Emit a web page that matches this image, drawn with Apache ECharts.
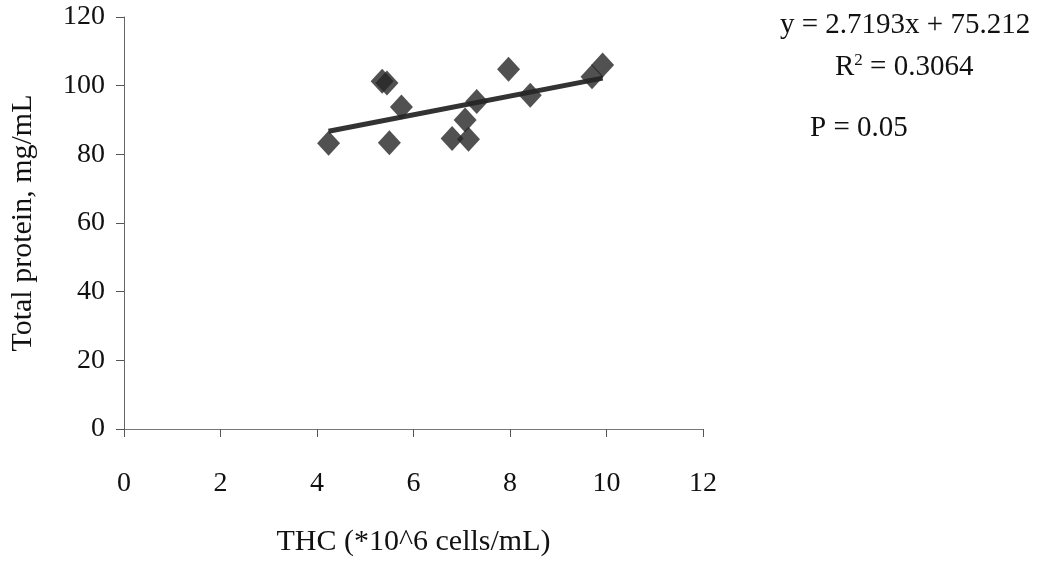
<!DOCTYPE html>
<html>
<head>
<meta charset="utf-8">
<title>THC vs total protein</title>
<script src="https://cdn.jsdelivr.net/npm/echarts@6/dist/echarts.min.js"></script>
<style>
  html, body { margin: 0; padding: 0; background: #fff; }
  #main { width: 1059px; height: 562px; }
</style>
</head>
<body>
<div id="main"></div>
<script>
// data
var thc = [4.24, 5.35, 5.45, 5.5, 5.75, 6.8, 7.07, 7.14, 7.31, 7.97, 8.42, 9.7, 9.92];
var protein = [83.2, 101.3, 100.8, 83.4, 93.8, 84.6, 90.0, 84.4, 95.4, 104.8, 97.2, 102.6, 106.0];
var slope = 2.7193, intercept = 75.212;
var trendX = [4.24, 9.92];
var xTicks = [0, 2, 4, 6, 8, 10, 12];
var yTicks = [0, 20, 40, 60, 80, 100, 120];

var points = [];
for (var i = 0; i < thc.length; i++) points.push([thc[i], protein[i]]);
var trend = trendX.map(function (x) { return [x, slope * x + intercept]; });

var serif = '"Liberation Serif", "DejaVu Serif", serif';
var myChart = echarts.init(document.getElementById('main'));

var option = {
  backgroundColor: '#fff',
  animation: false,
  grid: { left: 123, right: 356, top: 17, bottom: 130, containLabel: false },
  xAxis: {
    type: 'value',
    min: xTicks[0], max: xTicks[xTicks.length - 1], interval: 2,
    name: 'THC (*10^6 cells/mL)',
    nameLocation: 'middle', nameGap: 98,
    nameTextStyle: { fontFamily: serif, fontSize: 30, color: '#111' },
    axisLine: { lineStyle: { color: '#777', width: 1 } },
    axisTick: { show: true, length: 8, inside: false, lineStyle: { color: '#555' } },
    axisLabel: { margin: 41, fontFamily: serif, fontSize: 28, color: '#111' },
    splitLine: { show: false }
  },
  yAxis: {
    type: 'value',
    min: yTicks[0], max: yTicks[yTicks.length - 1], interval: 20,
    name: 'Total protein, mg/mL',
    nameLocation: 'middle', nameGap: 86, nameRotate: 90,
    nameTextStyle: { fontFamily: serif, fontSize: 30, color: '#111' },
    axisLine: { lineStyle: { color: '#666', width: 1 } },
    axisTick: { show: true, length: 8, lineStyle: { color: '#555' } },
    axisLabel: { margin: 19, fontFamily: serif, fontSize: 28, color: '#111' },
    splitLine: { show: false }
  },
  graphic: [
    { type: 'text', left: 780, top: 11,
      style: { text: 'y = 2.7193x + 75.212', font: '29px ' + serif, fill: '#111' } },
    { type: 'text', left: 835, top: 52,
      style: { text: 'R{s|2} = 0.3064', font: '29px ' + serif, fill: '#111',
        rich: { s: { fontSize: 17, fontFamily: serif, verticalAlign: 'top', padding: [0, 0, 14, 0] } } } },
    { type: 'text', left: 810, top: 114,
      style: { text: 'P = 0.05', font: '29px ' + serif, fill: '#111' } }
  ],
  series: [
    {
      type: 'line',
      data: trend,
      symbol: 'none',
      lineStyle: { color: '#333', width: 5 },
      z: 2
    },
    {
      type: 'scatter',
      data: points,
      symbol: 'diamond',
      symbolSize: [23, 25],
      itemStyle: { color: '#262626' },
      z: 3
    }
  ]
};

myChart.setOption(option);
</script>
</body>
</html>
